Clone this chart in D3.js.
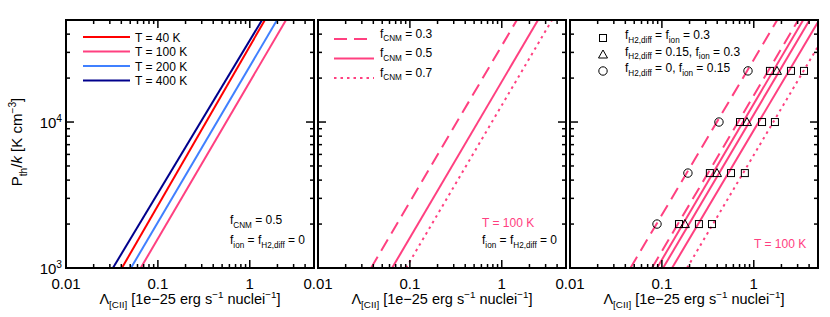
<!DOCTYPE html>
<html>
<head>
<meta charset="utf-8">
<script src="https://cdn.jsdelivr.net/npm/d3@7"></script>
<style>
  body { margin: 0; background: #fff; }
  svg { display: block; font-family: "Liberation Sans", Arial, sans-serif; }
</style>
</head>
<body>
<svg id="chart" width="830" height="317"></svg>
<script>
const curveP = [1e3, 5e4];

// panel 1: temperature series, f_CNM = 0.5
const tempLabels = ["T = 40 K", "T = 100 K", "T = 200 K", "T = 400 K"];
const tempColors = ["#ff0000", "#ff4080", "#4080ff", "#00008c"];
const tempLambda = [
  [0.0406, 1.46],
  [0.0650, 2.48],
  [0.0509, 1.98],
  [0.0324, 1.36]
];

// panel 2: f_CNM series at T = 100 K
const fcnmLabels = ["0.3", "0.5", "0.7"];
const fcnmStyles = ["dash", "solid", "dot"];
const fcnmLambda = [
  [0.0378, 1.46],
  [0.0640, 2.48],
  [0.0907, 3.52]
];

// panel 3: curves with ionised / diffuse H2 contributions
const extraStyles = ["dash", "dash", "solid", "solid", "solid", "dot"];
const extraLambda = [
  [0.0455, 1.80],
  [0.0780, 3.05],
  [0.0885, 3.45],
  [0.1030, 4.05],
  [0.1290, 5.15],
  [0.1875, 7.40]
];

// panel 3 markers
const markerP = [2e3, 4.47e3, 1e4, 2.24e4];
const markerSeries = [
  { shape: "circle",   values: [0.0885, 0.192, 0.418, 0.865] },
  { shape: "square",   values: [0.1535, 0.333, 0.708, 1.50] },
  { shape: "triangle", values: [0.178, 0.398, 0.844, 1.79] },
  { shape: "square",   values: [0.253, 0.565, 1.23, 2.54] },
  { shape: "square",   values: [0.351, 0.80, 1.70, 3.52] }
];

const pink = "#ff4080";
const panelLeft = [66, 318, 570];
const panelW = 248;
const plotTop = 20, plotBottom = 268;
const xDomain = [0.01, 5];
const yDomain = [1e3, 5e4];
const dashes = { dash: "13,7", solid: null, dot: "2.5,4" };

const svg = d3.select("#chart");
const defs = svg.append("defs");

const y = d3.scaleLog().domain(yDomain).range([plotBottom, plotTop]);

const isDecade = (v) => Math.abs(Math.log10(v) - Math.round(Math.log10(v))) < 1e-6;

// text with sub/superscripts: parts = [[text, kind]], kind in "", "sub", "sup", "it"
function rich(g, x, yPos, parts, size, color, anchor) {
  const t = g.append("text")
    .attr("x", x).attr("y", yPos)
    .attr("font-size", size)
    .attr("fill", color || "#000")
    .attr("text-anchor", anchor || "start");
  let shift = 0;
  parts.forEach(([s, kind]) => {
    const span = t.append("tspan").text(s);
    let target = 0;
    if (kind === "sub") { target = size * 0.3; span.attr("font-size", size * 0.68); }
    else if (kind === "sup") { target = -size * 0.42; span.attr("font-size", size * 0.68); }
    else if (kind === "it") { span.attr("font-style", "italic"); }
    span.attr("dy", target - shift);
    shift = target;
  });
  return t;
}

function drawMarker(g, shape, cx, cy) {
  if (shape === "square") {
    g.append("rect").attr("x", cx - 3.5).attr("y", cy - 3.5).attr("width", 7).attr("height", 7);
  } else if (shape === "triangle") {
    g.append("path").attr("d", `M${cx},${cy - 4.5}L${cx + 4.5},${cy + 3.5}L${cx - 4.5},${cy + 3.5}Z`);
  } else {
    g.append("circle").attr("cx", cx).attr("cy", cy).attr("r", 4.2);
  }
}

panelLeft.forEach((left, i) => {
  const x = d3.scaleLog().domain(xDomain).range([left, left + panelW]);
  const g = svg.append("g");

  defs.append("clipPath").attr("id", "clip" + i)
    .append("rect").attr("x", left).attr("y", plotTop).attr("width", panelW).attr("height", plotBottom - plotTop);

  const plot = g.append("g").attr("clip-path", `url(#clip${i})`);
  const line = d3.line().x(d => x(d[0])).y(d => y(d[1]));

  function curve(values, color, style) {
    plot.append("path")
      .datum(values.map((v, k) => [v, curveP[k]]))
      .attr("d", line)
      .attr("fill", "none")
      .attr("stroke", color)
      .attr("stroke-width", 2)
      .attr("stroke-dasharray", dashes[style]);
  }

  if (i === 0) {
    tempLambda.forEach((vals, k) => curve(vals, tempColors[k], "solid"));
  } else if (i === 1) {
    fcnmLambda.forEach((vals, k) => curve(vals, pink, fcnmStyles[k]));
  } else {
    extraLambda.forEach((vals, k) => curve(vals, pink, extraStyles[k]));
    const mk = plot.append("g").attr("fill", "none").attr("stroke", "#000").attr("stroke-width", 1);
    markerSeries.forEach(s => {
      s.values.forEach((v, k) => drawMarker(mk, s.shape, x(v), y(markerP[k])));
    });
  }

  // ticks, inward on all four sides
  const tk = g.append("g").attr("stroke", "#000").attr("stroke-width", 1.5);
  x.ticks().forEach(v => {
    const len = isDecade(v) ? 8 : 4;
    tk.append("line").attr("x1", x(v)).attr("x2", x(v)).attr("y1", plotBottom).attr("y2", plotBottom - len);
    tk.append("line").attr("x1", x(v)).attr("x2", x(v)).attr("y1", plotTop).attr("y2", plotTop + len);
  });
  y.ticks().forEach(v => {
    const len = isDecade(v) ? 8 : 4;
    tk.append("line").attr("x1", left).attr("x2", left + len).attr("y1", y(v)).attr("y2", y(v));
    tk.append("line").attr("x1", left + panelW).attr("x2", left + panelW - len).attr("y1", y(v)).attr("y2", y(v));
  });

  g.append("rect")
    .attr("x", left).attr("y", plotTop).attr("width", panelW).attr("height", plotBottom - plotTop)
    .attr("fill", "none").attr("stroke", "#000").attr("stroke-width", 2);

  // x tick labels
  x.ticks().filter(isDecade).forEach(v => {
    g.append("text").attr("x", x(v)).attr("y", 289)
      .attr("text-anchor", "middle").attr("font-size", 15)
      .text(String(v));
  });

  // x axis title
  rich(g, left + panelW / 2, 304, [
    ["\u039B", ""], ["[CII]", "sub"], [" [1e\u221225 erg s", ""], ["\u22121", "sup"],
    [" nuclei", ""], ["\u22121", "sup"], ["]", ""]
  ], 14.5, "#000", "middle");
});

// y tick labels and title (left panel only)
[1e3, 1e4].forEach(v => {
  rich(svg, 62, y(v) + 6, [["10", ""], [String(Math.round(Math.log10(v))), "sup"]], 15, "#000", "end");
});
rich(svg, 0, 0, [["P", ""], ["th", "sub"], ["/", ""], ["k", "it"], [" [K cm", ""], ["\u22123", "sup"], ["]", ""]], 15, "#000", "middle")
  .attr("transform", "translate(22,142) rotate(-90)");

// panel 1 legend
tempLabels.forEach((lab, k) => {
  const ly = 37 + k * 14.5;
  svg.append("line").attr("x1", 83).attr("x2", 130).attr("y1", ly).attr("y2", ly)
    .attr("stroke", tempColors[k]).attr("stroke-width", 2);
  svg.append("text").attr("x", 135).attr("y", ly + 4.5).attr("font-size", 12).text(lab);
});
rich(svg, 230, 224, [["f", ""], ["CNM", "sub"], [" = 0.5", ""]], 12);
rich(svg, 230, 244, [["f", ""], ["ion", "sub"], [" = f", ""], ["H2,diff", "sub"], [" = 0", ""]], 12);

// panel 2 legend
fcnmLabels.forEach((lab, k) => {
  const ly = 39 + k * 19.5;
  svg.append("line").attr("x1", 334).attr("x2", 374).attr("y1", ly).attr("y2", ly)
    .attr("stroke", pink).attr("stroke-width", 2)
    .attr("stroke-dasharray", dashes[fcnmStyles[k]]);
  rich(svg, 380, ly - 1.5, [["f", ""], ["CNM", "sub"], [" = " + lab, ""]], 12);
});
svg.append("text").attr("x", 482).attr("y", 227).attr("font-size", 12).attr("fill", pink).text("T = 100 K");
rich(svg, 482, 244, [["f", ""], ["ion", "sub"], [" = f", ""], ["H2,diff", "sub"], [" = 0", ""]], 12);

// panel 3 legend
const legendShapes = ["square", "triangle", "circle"];
const legendTexts = [
  [["f", ""], ["H2,diff", "sub"], [" = f", ""], ["ion", "sub"], [" = 0.3", ""]],
  [["f", ""], ["H2,diff", "sub"], [" = 0.15, f", ""], ["ion", "sub"], [" = 0.3", ""]],
  [["f", ""], ["H2,diff", "sub"], [" = 0, f", ""], ["ion", "sub"], [" = 0.15", ""]]
];
const lg = svg.append("g").attr("fill", "none").attr("stroke", "#000").attr("stroke-width", 1);
legendShapes.forEach((s, k) => {
  const ly = 38 + k * 16.5;
  drawMarker(lg, s, 603, ly);
  rich(svg, 625, ly + 1, legendTexts[k], 12);
});
svg.append("text").attr("x", 754).attr("y", 248).attr("font-size", 12).attr("fill", pink).text("T = 100 K");
</script>
</body>
</html>
